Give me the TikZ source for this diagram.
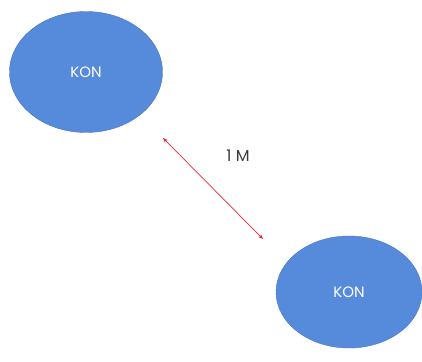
\documentclass[tikz,border=0pt]{standalone}
\usepackage{fontspec}
\setmainfont{Poppins}
\usetikzlibrary{shapes.geometric,arrows.meta}
\definecolor{konblue}{RGB}{86,139,220}
\definecolor{arrowred}{RGB}{230,40,60}
\definecolor{labelgrey}{RGB}{60,60,60}
\begin{document}
\begin{tikzpicture}[x=1pt,y=-1pt,
  kon/.style={ellipse, fill=konblue, draw=konblue!85!black, line width=0.4pt, text=white, font=\fontsize{15}{18}\selectfont, inner sep=0pt},
  link/.style={arrowred, line width=0.7pt, {Stealth[length=5pt,width=4pt]}-{Stealth[length=5pt,width=4pt]}}]
\useasboundingbox[fill=white] (0,0) rectangle (422,361);
\node[kon, minimum width=153pt, minimum height=121pt] (a) at (86,72) {KON};
\node[kon, minimum width=146pt, minimum height=112pt] (b) at (349,292) {KON};
\coordinate (p) at (163,138);
\coordinate (q) at (263,239);
\draw[link] (p) -- (q);
\node[text=labelgrey, font=\fontsize{16}{19}\selectfont] (m) at (238,156) {1 M};
\end{tikzpicture}
\end{document}
